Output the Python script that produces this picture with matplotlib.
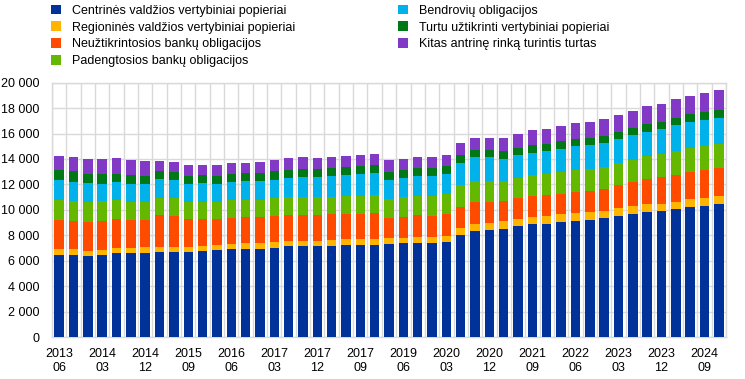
import matplotlib
matplotlib.use("Agg")
import matplotlib.pyplot as plt
from matplotlib.ticker import FuncFormatter
import numpy as np

plt.rcParams['font.family'] = ['Liberation Sans', 'DejaVu Sans']

# quarterly data, 2013 Q2 .. 2024 Q4
central_gov = [6440, 6440, 6360, 6440, 6600, 6600, 6600, 6680, 6680, 6680, 6750, 6830, 6910, 6910, 6910, 6990,
               7150, 7150, 7150, 7150, 7230, 7230, 7230, 7300, 7380, 7380, 7380, 7460, 8010, 8330, 8400, 8480,
               8720, 8880, 8880, 9030, 9110, 9190, 9350, 9500, 9660, 9820, 9900, 10050, 10210, 10290, 10450]
regional_gov = [470, 470, 390, 390, 390, 390, 470, 390, 390, 390, 390, 390, 390, 470, 470, 470,
                390, 390, 390, 470, 470, 470, 470, 470, 390, 470, 470, 470, 550, 550, 550, 630,
                550, 550, 630, 630, 630, 630, 550, 630, 630, 630, 550, 550, 630, 630, 630]
unsecured_bank = [2280, 2200, 2280, 2280, 2300, 2200, 2120, 2540, 2430, 2230, 2150, 2070, 2070, 2070, 2070, 2040,
                  2070, 2070, 2070, 2040, 1960, 1960, 2070, 1570, 1680, 1750, 1650, 1730, 1680, 1730, 1650, 1600,
                  1650, 1650, 1650, 1570, 1650, 1680, 1750, 1830, 1890, 1960, 2150, 2150, 2120, 2200, 2200]
covered_bank = [1570, 1600, 1570, 1600, 1470, 1410, 1410, 1310, 1410, 1310, 1310, 1310, 1390, 1310, 1310, 1410,
                1390, 1390, 1390, 1340, 1410, 1410, 1390, 1490, 1540, 1470, 1570, 1570, 1730, 1680, 1680, 1570,
                1570, 1700, 1650, 1730, 1730, 1730, 1730, 1730, 1730, 1810, 1780, 1880, 1890, 1880, 1880]
corporate = [1570, 1470, 1490, 1310, 1410, 1410, 1410, 1470, 1410, 1410, 1490, 1410, 1410, 1490, 1490, 1470,
             1490, 1570, 1570, 1650, 1650, 1730, 1730, 1540, 1490, 1570, 1570, 1570, 1700, 1860, 1860, 1700,
             1800, 1700, 1810, 1810, 1890, 1860, 1860, 1860, 1960, 1890, 1960, 2020, 2040, 2040, 2040]
abs_sec = [785, 865, 710, 790, 630, 710, 630, 650, 630, 630, 630, 630, 630, 630, 630, 650,
           630, 630, 630, 630, 630, 630, 630, 580, 630, 630, 630, 630, 630, 550, 550, 630,
           550, 630, 550, 630, 550, 550, 550, 550, 550, 630, 550, 550, 630, 630, 630]
other = [1100, 1100, 1180, 1180, 1260, 1180, 1180, 785, 785, 865, 785, 865, 865, 785, 865, 865,
         940, 940, 860, 860, 860, 860, 865, 940, 865, 865, 865, 865, 940, 940, 940, 1020,
         1100, 1180, 1180, 1180, 1260, 1260, 1340, 1340, 1340, 1410, 1410, 1490, 1410, 1490, 1570]

series_names = ['Centrinės valdžios vertybiniai popieriai',
                'Regioninės valdžios vertybiniai popieriai',
                'Neužtikrintosios bankų obligacijos',
                'Padengtosios bankų obligacijos',
                'Bendrovių obligacijos',
                'Turtu užtikrinti vertybiniai popieriai',
                'Kitas antrinę rinką turintis turtas']
tick_labels = ['2013\n06', '2014\n03', '2014\n12', '2015\n09', '2016\n06', '2017\n03', '2017\n12', '2017\n09',
               '2019\n06', '2020\n03', '2020\n12', '2021\n09', '2022\n06', '2023\n03', '2023\n12', '2024\n09']

colors = ['#003299', '#FFB400', '#FF4B00', '#65B800', '#00B1EA', '#007816', '#8139C6']
grid_col = '#D9D9D9'

fig = plt.figure(figsize=(7.45, 3.79), dpi=100)
ax = fig.add_axes([0.0698, 0.1108, 0.9047, 0.671])

data = [central_gov, regional_gov, unsecured_bank, covered_bank, corporate, abs_sec, other]
n = len(central_gov)
x = np.arange(n)
bottom = np.zeros(n)
handles = []
for vals, col, name in zip(data, colors, series_names):
    b = ax.bar(x, vals, 0.66, bottom=bottom, color=col, label=name, zorder=3)
    handles.append(b)
    bottom += np.array(vals)

ax.set_xlim(-0.5, n - 0.5)
ax.set_ylim(0, 20000)
ax.set_yticks(range(0, 20001, 2000))
ax.yaxis.set_major_formatter(FuncFormatter(lambda v, p: f"{int(v):,}".replace(",", " ")))
ax.set_xticks(x[::3])
ax.set_xticklabels(tick_labels, linespacing=1.25)
ax.set_xticks(np.arange(-0.5, n, 1), minor=True)
ax.tick_params(axis='both', which='both', length=0, labelsize=9, colors='#000000')
ax.tick_params(axis='y', pad=9)
ax.tick_params(axis='x', pad=8)
ax.yaxis.grid(True, color=grid_col, lw=1, zorder=0)
ax.xaxis.grid(True, which='minor', color=grid_col, lw=1, zorder=0)
ax.set_axisbelow(True)
for s in ax.spines.values():
    s.set_color(grid_col)
    s.set_linewidth(1)

fig.legend(handles, series_names, loc='upper left', bbox_to_anchor=(0.068, 0.988), ncol=2,
           frameon=False, fontsize=9, handlelength=0.8, handleheight=0.8, handletextpad=0.9,
           labelspacing=0.38, columnspacing=8.2, borderaxespad=0, borderpad=0)

fig.savefig('out.png', dpi=100)
